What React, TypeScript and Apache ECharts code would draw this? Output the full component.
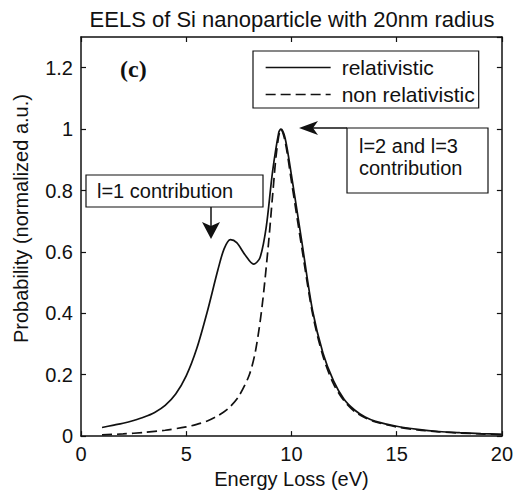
import React, { useEffect, useRef } from "react";
import * as echarts from "echarts";

const titleText = "EELS of Si nanoparticle with 20nm radius";
const xName = "Energy Loss (eV)";
const yName = "Probability (normalized a.u.)";
const seriesNames = ["relativistic", "non relativistic"];

const relX = [1.0, 1.5, 2, 2.5, 3, 3.5, 4, 4.5, 5, 5.5, 6, 6.5, 6.8, 7.1, 7.4, 7.8, 8.2, 8.5, 8.8, 9.1, 9.4, 9.5, 9.7, 10, 10.5, 11, 11.5, 12, 12.5, 13, 13.5, 14, 15, 16, 17, 18, 19, 20];
const relY = [0.028, 0.035, 0.042, 0.051, 0.062, 0.077, 0.1, 0.137, 0.196, 0.285, 0.405, 0.54, 0.61, 0.64, 0.63, 0.59, 0.56, 0.58, 0.68, 0.86, 0.99, 1.0, 0.97, 0.85, 0.63, 0.41, 0.27, 0.18, 0.12, 0.085, 0.062, 0.048, 0.032, 0.022, 0.015, 0.011, 0.008, 0.006];

const nonX = [1.0, 2, 3, 4, 5, 5.5, 6, 6.5, 7, 7.5, 8, 8.3, 8.6, 8.9, 9.1, 9.3, 9.5, 9.7, 10, 10.5, 11, 11.5, 12, 12.5, 13, 13.5, 14, 15, 16, 17, 18, 19, 20];
const nonY = [0.004, 0.007, 0.012, 0.019, 0.03, 0.038, 0.049, 0.066, 0.09, 0.13, 0.2, 0.28, 0.42, 0.62, 0.78, 0.93, 1.0, 0.96, 0.83, 0.61, 0.4, 0.26, 0.17, 0.115, 0.08, 0.06, 0.046, 0.03, 0.02, 0.014, 0.01, 0.007, 0.005];

const annotation1 = "l=1 contribution";
const annotation2 = ["l=2 and l=3", "contribution"];
const panelLabel = "(c)";

const SANS = "'Liberation Sans', Arial, sans-serif";
const INK = "#111";

export default function App() {
  const ref = useRef<HTMLDivElement>(null);
  useEffect(() => {
    if (!ref.current) return;
    const chart = echarts.init(ref.current, undefined, { renderer: "svg" });
    const zip = (xs: number[], ys: number[]) => xs.map((x, i) => [x, ys[i]]);
    const axisCommon = {
      type: "value" as const,
      axisLine: { show: true, onZero: false, lineStyle: { color: INK, width: 1.5 } },
      axisTick: { show: true, inside: true, length: 5, lineStyle: { color: INK, width: 1.2 } },
      splitLine: { show: false },
    };
    const yFmt = (v: number) => (Math.abs(v) < 1e-9 ? "0" : Math.abs(v - 1) < 1e-9 ? "1" : v.toFixed(1));
    chart.setOption({
      animation: false,
      backgroundColor: "#fff",
      title: {
        text: titleText,
        left: 292,
        textAlign: "center",
        top: 8,
        padding: 0,
        textStyle: { fontFamily: SANS, fontSize: 22, fontWeight: "normal", color: INK },
      },
      legend: {
        data: seriesNames,
        orient: "vertical",
        left: 253,
        top: 51,
        padding: [6, 4, 3, 12],
        itemGap: 6,
        itemWidth: 65,
        itemHeight: 14,
        borderColor: INK,
        borderWidth: 1.2,
        backgroundColor: "#fff",
        itemStyle: { color: "transparent", borderWidth: 0, opacity: 0 },
        lineStyle: { width: 1.3 },
        textStyle: { fontFamily: SANS, fontSize: 21, color: INK, lineHeight: 20, padding: [0, 0, 0, 6] },
      },
      grid: { left: 81, right: 13, top: 37, bottom: 52 },
      xAxis: [
        {
          ...axisCommon,
          min: 0,
          max: 20,
          interval: 5,
          name: xName,
          nameLocation: "middle",
          nameGap: 30,
          nameTextStyle: { fontFamily: SANS, fontSize: 20, color: INK },
          axisLabel: { fontFamily: SANS, fontSize: 20, color: INK, margin: 8 },
        },
        {
          ...axisCommon,
          position: "top",
          min: 0,
          max: 20,
          interval: 5,
          axisLabel: { show: false },
        },
      ],
      yAxis: [
        {
          ...axisCommon,
          min: 0,
          max: 1.3,
          interval: 0.2,
          name: yName,
          nameLocation: "middle",
          nameGap: 50,
          nameTextStyle: { fontFamily: SANS, fontSize: 20, color: INK, padding: [0, 0, 0, 36] },
          axisLabel: { fontFamily: SANS, fontSize: 20, color: INK, margin: 8, showMaxLabel: false, formatter: yFmt },
        },
        {
          ...axisCommon,
          position: "right",
          min: 0,
          max: 1.3,
          interval: 0.2,
          axisLabel: { show: false },
        },
      ],
      series: [
        {
          name: seriesNames[0],
          type: "line",
          data: zip(relX, relY),
          smooth: 0.3,
          symbol: "none",
          lineStyle: { color: INK, width: 1.7, type: "solid" },
          itemStyle: { color: INK },
          z: 3,
        },
        {
          name: seriesNames[1],
          type: "line",
          data: zip(nonX, nonY),
          smooth: 0.3,
          symbol: "none",
          lineStyle: { color: INK, width: 1.7, type: [10, 5] },
          itemStyle: { color: INK },
          z: 2,
        },
      ],
      graphic: [
        {
          type: "text",
          left: 120,
          top: 57,
          style: { text: panelLabel, font: "bold 24px 'Liberation Serif', 'Times New Roman', serif", fill: INK },
        },
        {
          type: "rect",
          shape: { x: 86, y: 175, width: 177, height: 32 },
          style: { fill: "#fff", stroke: INK, lineWidth: 1.2 },
          z: 10,
        },
        {
          type: "text",
          x: 97,
          y: 191,
          style: { text: annotation1, font: `20px ${SANS}`, fill: INK, verticalAlign: "middle" },
          z: 11,
        },
        {
          type: "line",
          shape: { x1: 211, y1: 207, x2: 211, y2: 226 },
          style: { stroke: INK, lineWidth: 1.5 },
          z: 10,
        },
        {
          type: "polygon",
          shape: { points: [[202, 222], [211, 226], [220, 222], [211, 239]] },
          style: { fill: INK },
          z: 10,
        },
        {
          type: "rect",
          shape: { x: 347, y: 128, width: 141, height: 65 },
          style: { fill: "#fff", stroke: INK, lineWidth: 1.2 },
          z: 10,
        },
        {
          type: "text",
          x: 359,
          y: 146,
          style: { text: annotation2[0], font: `20px ${SANS}`, fill: INK, verticalAlign: "middle" },
          z: 11,
        },
        {
          type: "text",
          x: 359,
          y: 168,
          style: { text: annotation2[1], font: `20px ${SANS}`, fill: INK, verticalAlign: "middle" },
          z: 11,
        },
        {
          type: "line",
          shape: { x1: 347, y1: 128, x2: 313, y2: 128 },
          style: { stroke: INK, lineWidth: 1.5 },
          z: 10,
        },
        {
          type: "polygon",
          shape: { points: [[299, 128], [318, 121], [313, 128], [318, 135]] },
          style: { fill: INK },
          z: 10,
        },
      ],
    });
    return () => chart.dispose();
  }, []);
  return <div ref={ref} style={{ position: "fixed", left: 0, top: 0, width: 516, height: 494 }} />;
}
